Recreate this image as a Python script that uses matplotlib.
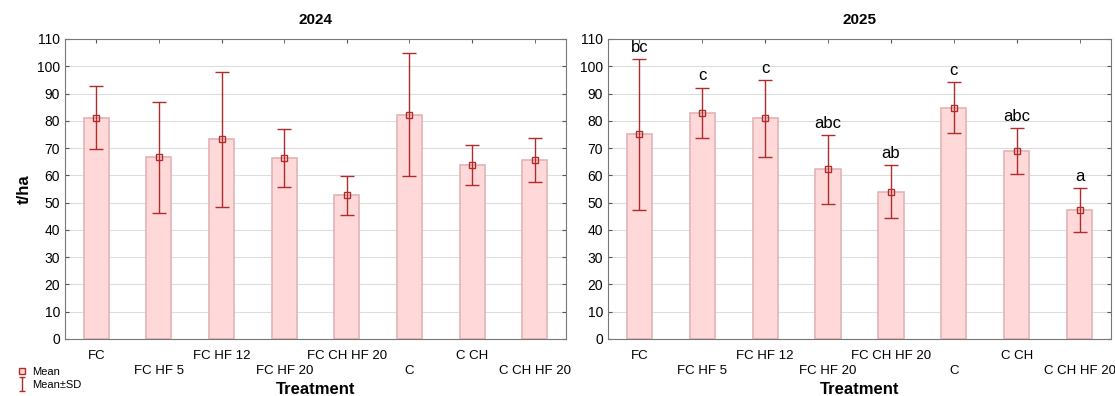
import numpy as np
import matplotlib.pyplot as plt
from matplotlib.lines import Line2D
from matplotlib.path import Path

plt.rcParams['font.family'] = ['Liberation Sans', 'DejaVu Sans']

treatments = ['FC', 'FC HF 5', 'FC HF 12', 'FC HF 20', 'FC CH HF 20', 'C', 'C CH', 'C CH HF 20']

mean_2024 = [81.2, 66.6, 73.2, 66.3, 52.7, 82.3, 63.8, 65.6]
sd_2024 = [11.6, 20.3, 24.7, 10.6, 7.2, 22.5, 7.4, 8.2]

mean_2025 = [75.0, 83.0, 80.9, 62.2, 54.0, 84.8, 69.0, 47.3]
sd_2025 = [27.6, 9.2, 14.0, 12.7, 9.7, 9.3, 8.5, 7.9]
letters_2025 = ['bc', 'c', 'c', 'abc', 'ab', 'c', 'abc', 'a']

bar_fill = '#ffd9d9'
bar_edge = '#e2b4b4'
err_col = '#b22b2b'


def draw_panel(ax, means, sds, title, letters=None):
    x = np.arange(len(treatments))
    ax.bar(x, means, width=0.4, color=bar_fill, edgecolor=bar_edge, linewidth=1.2, zorder=2)
    ax.errorbar(x, means, yerr=sds, fmt='none', ecolor=err_col, elinewidth=1,
                capsize=4.7, capthick=1, zorder=3)
    ax.plot(x, means, 's', ms=4.5, mfc='none', mec=err_col, mew=1, zorder=4)
    if letters is not None:
        for xi, m, s, lab in zip(x, means, sds, letters):
            ax.text(xi, m + s + 1.5, lab, ha='center', va='bottom', fontsize=12)
    ax.set_xlim(-0.5, len(treatments) - 0.5)
    ax.set_ylim(0, 110)
    ax.set_yticks(np.arange(0, 111, 10))
    # alternate the category labels on two rows
    ax.set_xticks(x[::2])
    ax.set_xticklabels(treatments[::2])
    ax.set_xticks(x[1::2], minor=True)
    ax.set_xticklabels(treatments[1::2], minor=True)
    ax.tick_params(axis='both', which='both', direction='in', top=True, right=True,
                   labelsize=10, length=3, color='#555555')
    ax.tick_params(axis='x', which='major', pad=8, labelsize=9.5)
    ax.tick_params(axis='x', which='minor', pad=19, labelsize=9.5)
    ax.yaxis.grid(True, color='#dddddd', linewidth=0.8, zorder=0)
    ax.set_axisbelow(True)
    for sp in ax.spines.values():
        sp.set_color('#777777')
    ax.set_title(title, fontsize=11, fontweight='bold', pad=11)
    ax.set_xlabel('Treatment', fontsize=12, fontweight='bold', labelpad=3)


fig = plt.figure(figsize=(11.15, 3.96), dpi=100)
ax1 = fig.add_axes([65 / 1115, 57 / 396, 501 / 1115, 300 / 396])
ax2 = fig.add_axes([608 / 1115, 57 / 396, 503 / 1115, 300 / 396])

draw_panel(ax1, mean_2024, sd_2024, '2024')
draw_panel(ax2, mean_2025, sd_2025, '2025', letters_2025)
ax1.set_ylabel('t/ha', fontsize=12, fontweight='bold', labelpad=4)

# whisker symbol for the legend
whisker = Path([(-0.5, -1), (0.5, -1), (0, -1), (0, 1), (-0.5, 1), (0.5, 1)],
               [Path.MOVETO, Path.LINETO, Path.MOVETO, Path.LINETO, Path.MOVETO, Path.LINETO])
handles = [
    Line2D([], [], ls='none', marker='s', ms=5, mfc=bar_fill, mec=err_col, mew=1),
    Line2D([], [], ls='none', marker=whisker, ms=10, mfc='none', mec=err_col, mew=1),
]
fig.legend(handles, ['Mean', 'Mean±SD'], loc='lower left', bbox_to_anchor=(0.008, -0.005),
           frameon=False, fontsize=8, handlelength=1, handletextpad=0.4,
           labelspacing=0.3, borderpad=0.2)

fig.savefig('out.png', dpi=100)
